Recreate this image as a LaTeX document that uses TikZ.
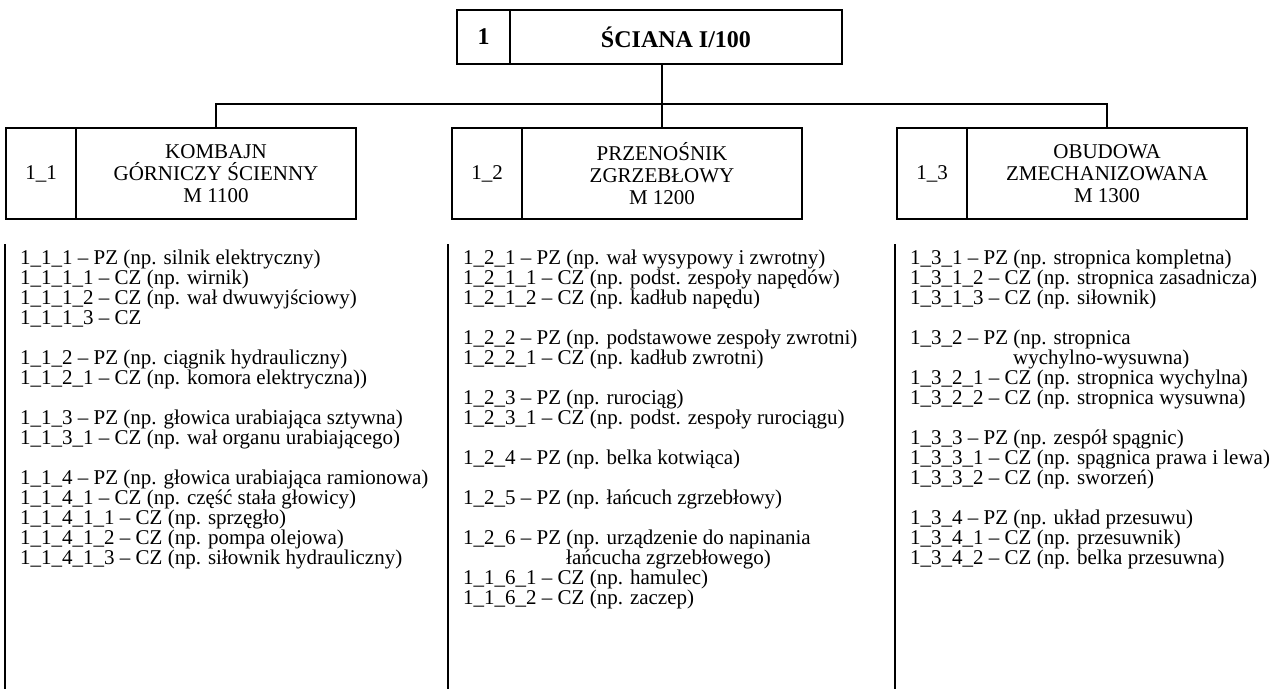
\documentclass[tikz,border=0pt]{standalone}
\usepackage{fontspec}
\setmainfont{Liberation Serif}
\usetikzlibrary{positioning}
\tikzset{
  cell/.style={
    draw,
    line width=1.2pt,
    inner sep=0pt,
    outer sep=0pt,
    align=center,
    font=\fontsize{21}{22}\selectfont,
  },
  nrcell/.style={
    cell,
    minimum width=70pt,
    minimum height=91pt,
  },
  namecell/.style={
    cell,
    minimum width=280pt,
    minimum height=91pt,
  },
  topcell/.style={
    cell,
    minimum height=54pt,
    font=\fontsize{24}{25}\selectfont\bfseries,
  },
  parts/.style={
    anchor=north west,
    align=left,
    inner xsep=15pt,
    inner ysep=6pt,
    font=\fontsize{21}{20}\selectfont,
  },
  bar/.style={
    line width=2pt,
  },
  link/.style={
    line width=1.2pt,
  }
}

\begin{document}
\begin{tikzpicture}[x=1pt, y=-1pt]
  \useasboundingbox (0,0) rectangle (1278,689);

  % top level
  \node [topcell, minimum width=53pt, anchor=north west] (topnr) at (457,10) {1};
  \node [topcell, minimum width=332pt, right=0pt of topnr] (top) {ŚCIANA I/100};

  % machines
  \node [nrcell, anchor=north west] (m1nr) at (6,128) {1\_1};
  \node [namecell, right=0pt of m1nr] (m1)
    {KOMBAJN\\GÓRNICZY ŚCIENNY\\M 1100};
  \node [nrcell, anchor=north west] (m2nr) at (452,128) {1\_2};
  \node [namecell, right=0pt of m2nr] (m2)
    {PRZENOŚNIK\\ZGRZEBŁOWY\\M 1200};
  \node [nrcell, anchor=north west] (m3nr) at (897,128) {1\_3};
  \node [namecell, right=0pt of m3nr] (m3)
    {OBUDOWA\\ZMECHANIZOWANA\\M 1300};

  \coordinate (bus) at (0,104);
  \coordinate (foot) at (0,689);

  % tree
  \draw [link] (m1.north) |- (m3.north |- bus) -- (m3.north);
  \draw [link] (m2.north) -- (m2.north |- top.south);

  % lists of parts
  \node [parts] (l1) at (5,244)
    {1\_1\_1 -- PZ (np. silnik elektryczny)\\
     1\_1\_1\_1 -- CZ (np. wirnik)\\
     1\_1\_1\_2 -- CZ (np. wał dwuwyjściowy)\\
     1\_1\_1\_3 -- CZ\\[20pt]
     1\_1\_2 -- PZ (np. ciągnik hydrauliczny)\\
     1\_1\_2\_1 -- CZ (np. komora elektryczna))\\[20pt]
     1\_1\_3 -- PZ (np. głowica urabiająca sztywna)\\
     1\_1\_3\_1 -- CZ (np. wał organu urabiającego)\\[20pt]
     1\_1\_4 -- PZ (np. głowica urabiająca ramionowa)\\
     1\_1\_4\_1 -- CZ (np. część stała głowicy)\\
     1\_1\_4\_1\_1 -- CZ (np. sprzęgło)\\
     1\_1\_4\_1\_2 -- CZ (np. pompa olejowa)\\
     1\_1\_4\_1\_3 -- CZ (np. siłownik hydrauliczny)};
  \node [parts] (l2) at (448,244)
    {1\_2\_1 -- PZ (np. wał wysypowy i zwrotny)\\
     1\_2\_1\_1 -- CZ (np. podst. zespoły napędów)\\
     1\_2\_1\_2 -- CZ (np. kadłub napędu)\\[20pt]
     1\_2\_2 -- PZ (np. podstawowe zespoły zwrotni)\\
     1\_2\_2\_1 -- CZ (np. kadłub zwrotni)\\[20pt]
     1\_2\_3 -- PZ (np. rurociąg)\\
     1\_2\_3\_1 -- CZ (np. podst. zespoły rurociągu)\\[20pt]
     1\_2\_4 -- PZ (np. belka kotwiąca)\\[20pt]
     1\_2\_5 -- PZ (np. łańcuch zgrzebłowy)\\[20pt]
     1\_2\_6 -- PZ (np. urządzenie do napinania\\
     \hspace*{103pt}łańcucha zgrzebłowego)\\
     1\_1\_6\_1 -- CZ (np. hamulec)\\
     1\_1\_6\_2 -- CZ (np. zaczep)};
  \node [parts] (l3) at (895,244)
    {1\_3\_1 -- PZ (np. stropnica kompletna)\\
     1\_3\_1\_2 -- CZ (np. stropnica zasadnicza)\\
     1\_3\_1\_3 -- CZ (np. siłownik)\\[20pt]
     1\_3\_2 -- PZ (np. stropnica\\
     \hspace*{103pt}wychylno-wysuwna)\\
     1\_3\_2\_1 -- CZ (np. stropnica wychylna)\\
     1\_3\_2\_2 -- CZ (np. stropnica wysuwna)\\[20pt]
     1\_3\_3 -- PZ (np. zespół spągnic)\\
     1\_3\_3\_1 -- CZ (np. spągnica prawa i lewa)\\
     1\_3\_3\_2 -- CZ (np. sworzeń)\\[20pt]
     1\_3\_4 -- PZ (np. układ przesuwu)\\
     1\_3\_4\_1 -- CZ (np. przesuwnik)\\
     1\_3\_4\_2 -- CZ (np. belka przesuwna)};

  \draw [bar] (l1.north west) -- (l1.north west |- foot);
  \draw [bar] (l2.north west) -- (l2.north west |- foot);
  \draw [bar] (l3.north west) -- (l3.north west |- foot);
\end{tikzpicture}
\end{document}
